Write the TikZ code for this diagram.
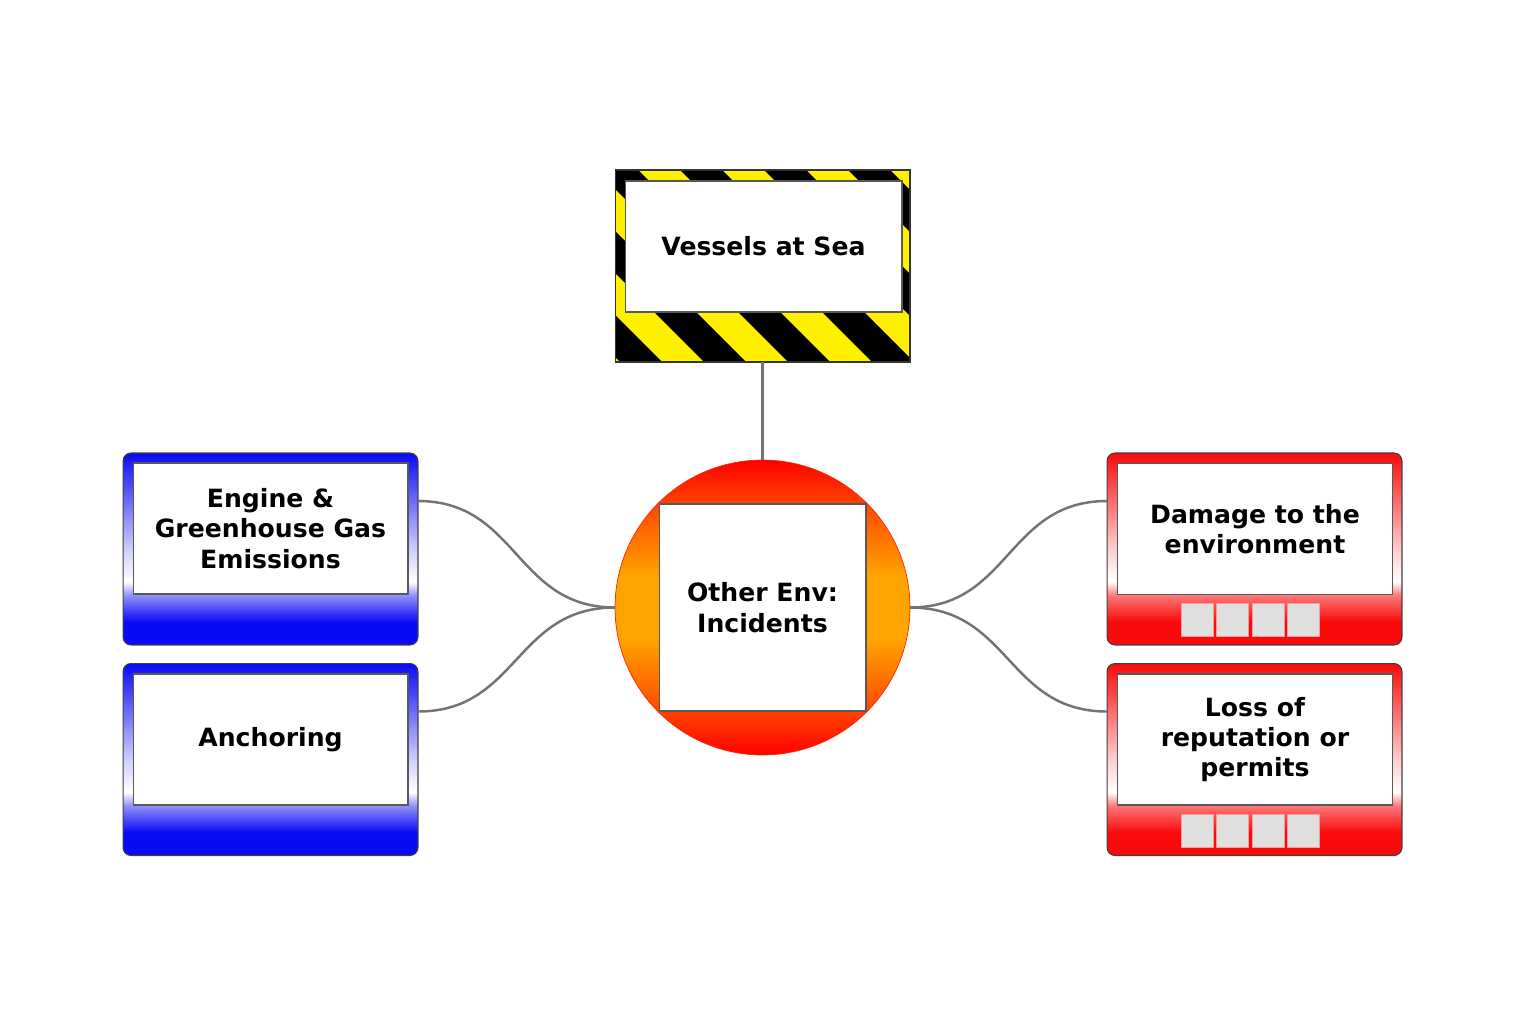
\documentclass[tikz,border=0pt]{standalone}
\usepackage{fontspec}
\setmainfont{DejaVu Sans}
\usetikzlibrary{calc}
\definecolor{boxblue}{RGB}{10,10,245}
\definecolor{boxred}{RGB}{250,10,10}
\definecolor{hazyellow}{RGB}{255,240,0}
\definecolor{evorange}{RGB}{255,165,0}
\definecolor{evmid}{RGB}{255,100,0}
\pgfdeclareverticalshading{blueside}{100bp}{color(0bp)=(boxblue); color(25bp)=(boxblue); color(31bp)=(boxblue); color(38bp)=(boxblue!45); color(41.5bp)=(white); color(50bp)=(boxblue!20); color(75bp)=(boxblue); color(100bp)=(boxblue)}
\pgfdeclareverticalshading{redside}{100bp}{color(0bp)=(boxred); color(25bp)=(boxred); color(31bp)=(boxred); color(38bp)=(boxred!55); color(41.5bp)=(white); color(50bp)=(boxred!20); color(75bp)=(boxred); color(100bp)=(boxred)}
\pgfdeclareverticalshading{evfire}{100bp}{color(0bp)=(red); color(25bp)=(red); color(36bp)=(evmid); color(45bp)=(evorange); color(55bp)=(evorange); color(64bp)=(evmid); color(75bp)=(red); color(100bp)=(red)}
\begin{document}
\begin{tikzpicture}[x=0.02cm, y=-0.02cm,
		boxtext/.style={font=\fontsize{14.3}{17.3}\selectfont\bfseries},
		panel/.style={draw=black!75, line width=0.6pt, rounded corners=0.16cm, minimum width=5.9cm, minimum height=3.84cm, inner sep=0pt, outer sep=0pt},
		threat/.style={panel, shading=blueside},
		conseq/.style={panel, shading=redside},
		card/.style={draw=black!65, fill=white, line width=0.6pt, minimum width=5.5cm, minimum height=2.62cm, inner sep=0pt, outer sep=0pt, align=center, boxtext},
		barrier/.style={draw=red!40, fill=black!12, line width=0.4pt, minimum width=0.64cm, minimum height=0.66cm, inner sep=0pt},
		link/.style={draw=black!55, line width=1.4pt}]
		\useasboundingbox (0,0) rectangle (1524,1024);
		% the hazard
		\node[fill=hazyellow, minimum width=5.9cm, minimum height=3.84cm, inner sep=0pt, outer sep=0pt] (haz) at (762.5,266) {};
		\begin{scope}
			\clip (haz.north west) rectangle (haz.south east);
			\foreach \k in {-2,...,4}
				\fill[black] ({512+84*\k},170) -- ++(42,0) -- ++(192,192) -- ++(-42,0) -- cycle;
		\end{scope}
		\draw[black!80, line width=0.6pt] (haz.north west) rectangle (haz.south east);
		\node[card, minimum width=5.54cm] (vessels) at (763.5,246.5) {Vessels at Sea};
		% the top event
		\node[circle, minimum size=5.9cm, inner sep=0pt, outer sep=0pt, shading=evfire, draw=red!70!orange] (ev) at (762.5,607.5) {};
		\node[card, minimum width=4.14cm, minimum height=4.14cm] (evt) at (ev) {Other Env:\\ Incidents};
		% threats
		\node[threat] (eng) at (270.5,549) {};
		\node[card] (engt) at (270.5,528.5) {Engine \&\\Greenhouse Gas\\Emissions};
		\node[threat] (anc) at (270.5,759.5) {};
		\node[card] (anct) at (270.5,739.5) {Anchoring};
		% consequences
		\node[conseq] (dmg) at (1254.5,549) {};
		\node[card] (dmgt) at (1255,529) {Damage to the\\environment};
		\node[conseq] (rep) at (1254.5,759.5) {};
		\node[card] (rept) at (1255,739.5) {Loss of\\reputation or\\permits};
		% barrier slots
		\foreach \b/\y in {dmg/619.5, rep/830.5}
			\foreach \i in {0,...,3}
				\node[barrier] (\b-\i) at ({1197+35.5*\i},\y) {};
		% connectors
		\draw[link] (haz.south) -- (ev.north);
		\draw[link] (ev.west) .. controls +(-100,0) and +(100,0) .. ($(eng.north east)!0.25!(eng.south east)$);
		\draw[link] (ev.west) .. controls +(-100,0) and +(100,0) .. ($(anc.north east)!0.25!(anc.south east)$);
		\draw[link] (ev.east) .. controls +(100,0) and +(-100,0) .. ($(dmg.north west)!0.25!(dmg.south west)$);
		\draw[link] (ev.east) .. controls +(100,0) and +(-100,0) .. ($(rep.north west)!0.25!(rep.south west)$);
	\end{tikzpicture}
\end{document}
